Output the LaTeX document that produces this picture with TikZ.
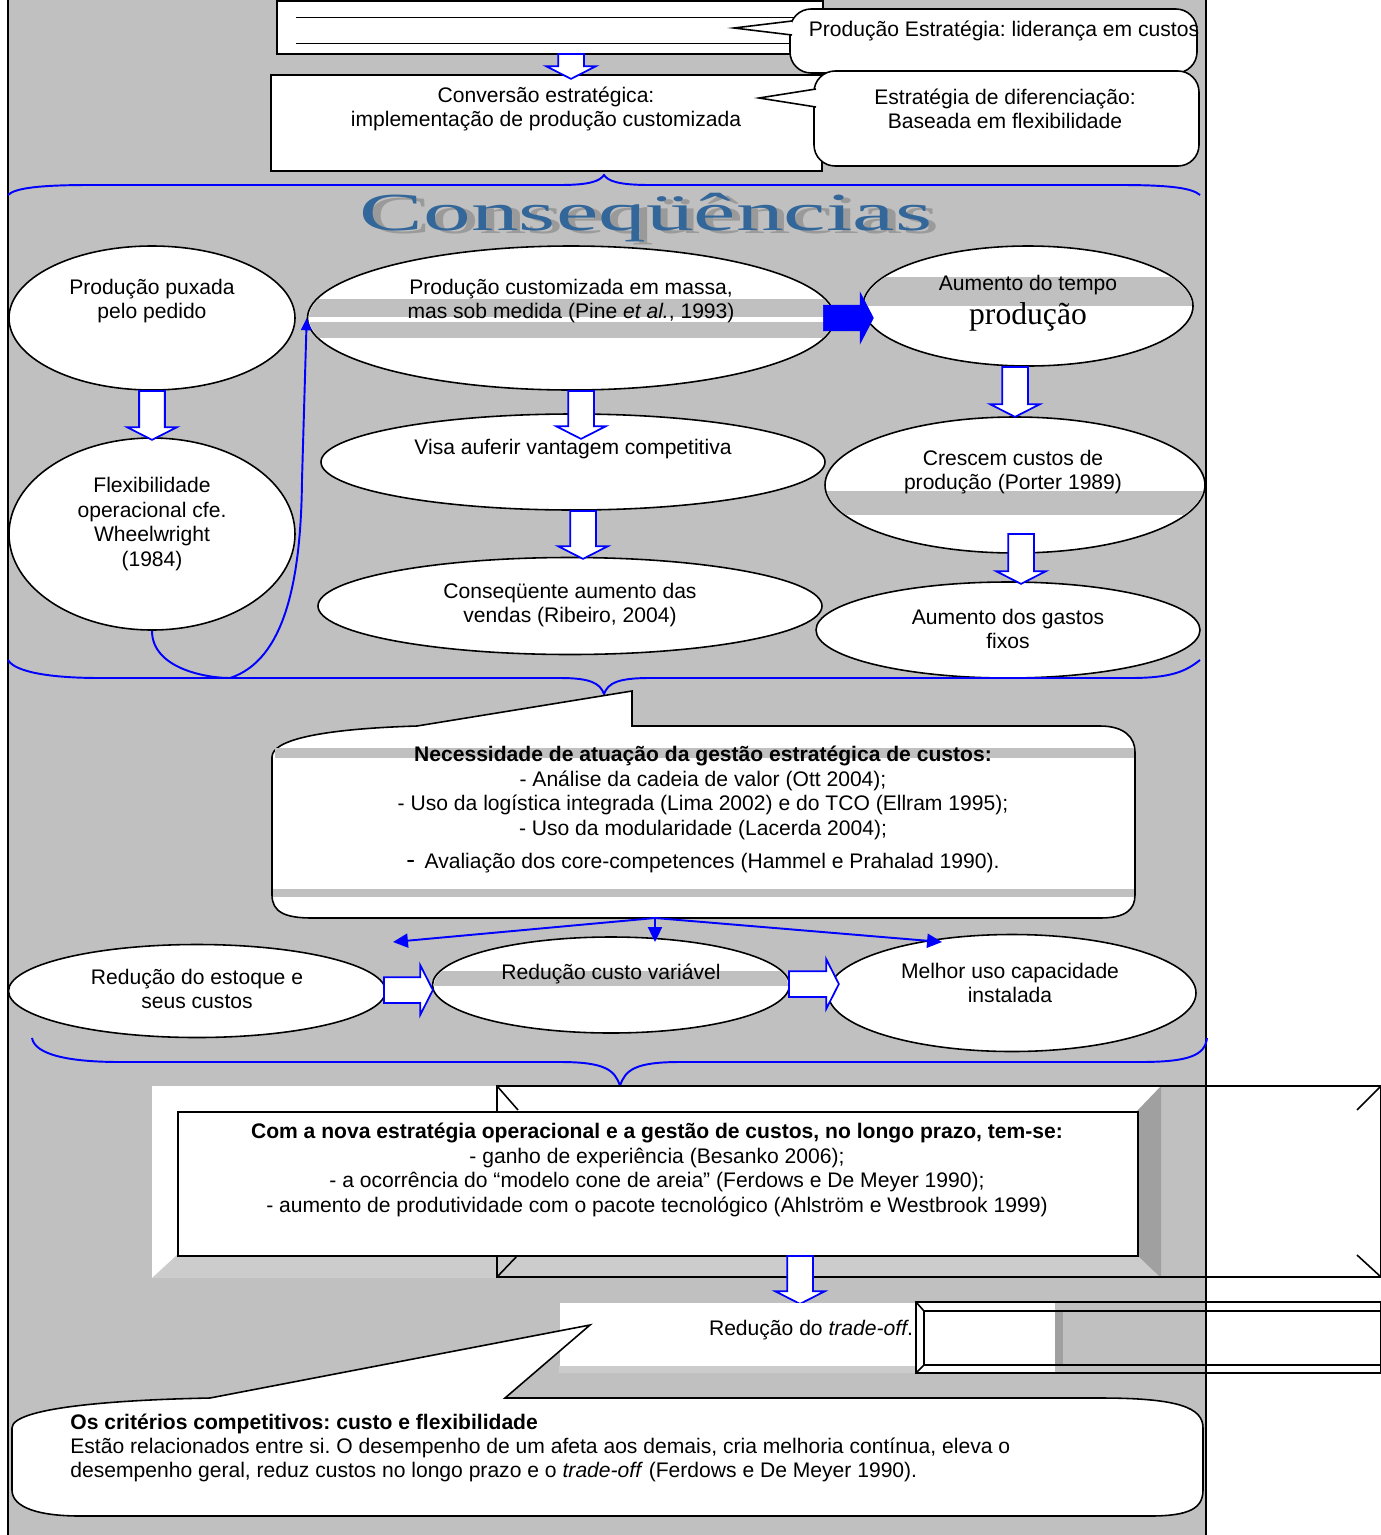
\documentclass[tikz,border=0pt]{standalone}
\usepackage{fontspec}
\setmainfont{Liberation Sans}
\newfontfamily\serifa{Liberation Serif}
\usetikzlibrary{shapes.geometric}
\usetikzlibrary{shapes.arrows}
\usetikzlibrary{arrows.meta}
\usepackage{xcolor}
\definecolor{fundo}{HTML}{C0C0C0}
\definecolor{bisel}{HTML}{CCCCCC}
\definecolor{biselesc}{HTML}{A0A0A0}
\definecolor{tituloazul}{HTML}{336699}
\definecolor{sombra}{HTML}{9A9A9A}
\frenchspacing

\begin{document}
\begin{tikzpicture}[x=0.02cm, y=-0.02cm]
        % ================= estilos =================
        \tikzset{
            % elipse branca com borda preta (largura, altura em px)
            elipse/.style 2 args={ellipse, draw=black, line width=0.9pt, fill=white, inner sep=0pt, minimum width=#1*0.02cm, minimum height=#2*0.02cm},
            % texto Arial 12pt
            txt/.style={font=\fontsize{12}{13.9}\selectfont, align=center, inner sep=0pt},
            % seta oca azul (comprimento em px)
            setaoca/.style={single arrow, draw=blue, line width=1pt, fill=white, inner xsep=0pt, inner ysep=0.24cm, single arrow head extend=0.24cm, single arrow tip angle=126, minimum height=#1*0.02cm},
            % seta cheia azul
            setacheia/.style={single arrow, draw=blue, fill=blue, inner xsep=0pt, inner ysep=0.25cm, single arrow head extend=0.25cm, single arrow tip angle=125, minimum height=1cm},
            % chaves e ligacoes azuis
            chave/.style={draw=blue, line width=1.1pt},
            ligacao/.style={draw=blue, line width=1.1pt, -{Triangle[length=8.5pt, width=8pt]}},
            % baloes de fala
            balao/.style={draw=black, line width=0.9pt, fill=white},
            faixa/.style={fill=fundo},
            caixa/.style={draw=black, line width=0.9pt, fill=white, inner sep=0pt, anchor=north west}
        }
        \useasboundingbox (0,0) rectangle (1381,1535);

        % ================= fundo =================
        \fill[fundo] (8,0) rectangle (1206,1535);
        \draw[line width=0.9pt] (8,0) -- (8,1535) (1206,0) -- (1206,1535);

        % ================= topo: estrategia =================
        \node[caixa, minimum width=546*0.02cm, minimum height=53*0.02cm] (topo) at (276,0) {};
        \draw (296,17) -- (800,17);
        \draw (296,43) -- (800,43);
        \node[caixa, minimum width=551*0.02cm, minimum height=96*0.02cm] (conv) at (270,74) {};
        \node[txt] (tconv) at (546,109) {Conversão estratégica:\\implementação de produção customizada};
        \node[setaoca=25, rotate=-90, anchor=tail] (a0) at (571,53) {};

        % baloes da direita
        \draw[balao, rounded corners=12pt] (790,9) rectangle (1197,73);
        \filldraw[balao] (792,21) -- (734,28) -- (792,35);
        \node[txt] (tb1) at (1004,31) {Produção Estratégia: liderança em custos};
        \draw[balao, rounded corners=12pt] (814,71) rectangle (1199,166);
        \filldraw[balao] (816,89) -- (759,98) -- (816,107);
        \node[txt] (tb2) at (1005,109) {Estratégia de diferenciação:\\Baseada em flexibilidade};

        % ================= Consequencias =================
        \draw[chave] (8,195) .. controls (15,188) and (40,185) .. (90,185) -- (560,185) .. controls (590,185) and (600,181) .. (604,175) .. controls (608,181) and (618,185) .. (650,185) -- (1120,185) .. controls (1170,185) and (1192,188) .. (1200,195);
        % titulo com sombra cinzenta
        \node[font=\serifa\fontsize{30.5}{30.5}\selectfont, text=tituloazul, inner sep=0pt] (tit) at (646,219)
            {\scalebox{1.78}[1]{\makebox[0pt][l]{\hspace{2.5pt}\raisebox{-2pt}{\color{sombra}Conseqüências}}Conseqüências}};

        \node[elipse={286}{144}] (e1) at (152,318) {};
        \node[elipse={527}{144}] (e2) at (571,318) {};
        \node[elipse={330}{120}] (e3) at (1028,306) {};
        \node[elipse={286}{192}] (e4) at (152,534) {};
        \node[elipse={504}{96}] (e5) at (573,462) {};
        \node[elipse={504}{97}] (e6) at (570,606) {};
        \node[elipse={380}{136}] (e7) at (1015,485) {};
        \node[elipse={384}{96}] (e8) at (1008,630) {};

        % faixas cinzentas dentro das elipses
        \begin{scope}
            \clip (e2.center) ellipse [x radius=262, y radius=71];
            \fill[faixa] (300,299) rectangle (840,317);
            \fill[faixa] (300,322) rectangle (840,338);
        \end{scope}
        \begin{scope}
            \clip (e3.center) ellipse [x radius=164, y radius=59];
            \fill[faixa] (860,277) rectangle (1200,306);
        \end{scope}
        \begin{scope}
            \clip (e7.center) ellipse [x radius=189, y radius=67];
            \fill[faixa] (820,491) rectangle (1210,515);
        \end{scope}

        \node[txt] (te1) at (152,301) {Produção puxada\\pelo pedido};
        \node[txt] (te2) at (571,301) {Produção customizada em massa,\\mas sob medida (Pine \textit{et al.}, 1993)};
        \node[txt] (te3) at (1028,285) {Aumento do tempo};
        \node[font=\serifa\fontsize{18}{18}\selectfont, inner sep=0pt] (te3b) at (1028,317) {produção};
        \node[txt] (te4) at (152,524) {Flexibilidade\\operacional cfe.\\Wheelwright\\(1984)};
        \node[txt] (te5) at (573,449) {Visa auferir vantagem competitiva};
        \node[txt] (te6) at (570,605) {Conseqüente aumento das\\vendas (Ribeiro, 2004)};
        \node[txt] (te7) at (1013,472) {Crescem custos de\\produção (Porter 1989)};
        \node[txt] (te8) at (1008,629) {Aumento dos gastos\\fixos};

        % ligacoes
        \draw[chave, -{Triangle[length=7pt, width=6pt]}] (e4.south) .. controls (152,668) and (205,678) .. (230,678) .. controls (285,660) and (301,580) .. (302,480) -- (e2.west);
        \node[setacheia, anchor=tail] (a23) at (823,318) {};
        \foreach \n/\x/\y/\l in {a14/152/390/49, a25/581/390/48, a56/583/510/48, a37/1015/366/50, a78/1021/533/50}
            \node[setaoca=\l, rotate=-90, anchor=tail] (\n) at (\x,\y) {};

        \draw[chave] (8,660) .. controls (15,672) and (50,678) .. (100,678) -- (560,678) .. controls (590,678) and (600,683) .. (604,694) .. controls (608,683) and (618,678) .. (650,678) -- (1130,678) .. controls (1170,678) and (1185,672) .. (1200,660);

        % ================= gestao estrategica de custos =================
        \draw[balao] (417,726) .. controls (320,729) and (272,740) .. (272,757) -- (272,895) .. controls (272,912) and (285,918) .. (312,918) -- (1100,918) .. controls (1125,918) and (1135,910) .. (1135,895) -- (1135,752) .. controls (1135,738) and (1125,726) .. (1100,726) -- (632,726) -- (632,691) -- cycle;
        \fill[faixa] (275,748) rectangle (1134,758);
        \fill[faixa] (273,889) rectangle (1134,897);
        \node[txt] (tnec) at (703,793) {\textbf{Necessidade de atuação da gestão estratégica de custos:}\\- Análise da cadeia de valor (Ott 2004);\\- Uso da logística integrada (Lima 2002) e do TCO (Ellram 1995);\\- Uso da modularidade (Lacerda 2004);};
        \node[txt] (tnec2) at (703,863) {{\fontsize{15}{15}\selectfont -}\, Avaliação dos core-competences (Hammel e Prahalad 1990).};

        \coordinate (nec) at (655,918);
        \coordinate (s9) at (393,942);
        \coordinate (s10) at (655,942);
        \coordinate (s11) at (942,942);

        \node[elipse={377}{93}] (e9) at (197,991) {};
        \node[elipse={357}{96}] (e10) at (611,985) {};
        \node[elipse={368}{117}] (e11) at (1012,993) {};
        \begin{scope}
            \clip (e10.center) ellipse [x radius=177, y radius=47];
            \fill[faixa] (420,971) rectangle (800,986);
        \end{scope}
        \node[txt] (te9) at (197,989) {Redução do estoque e\\seus custos};
        \node[txt] (te10) at (611,974) {Redução custo variável};
        \node[txt] (te11) at (1010,983) {Melhor uso capacidade\\instalada};

        \foreach \s in {s9, s10, s11}
            \draw[ligacao] (nec) -- (\s);
        \node[setaoca=49, anchor=tail] (a910) at (383,990) {};
        \node[setaoca=50, anchor=tail] (a1011) at (788,984) {};

        \draw[chave] (32,1038) .. controls (35,1055) and (70,1062) .. (120,1062) -- (560,1062) .. controls (605,1062) and (615,1070) .. (620,1086) .. controls (625,1070) and (635,1062) .. (680,1062) -- (1140,1062) .. controls (1190,1062) and (1205,1055) .. (1207,1038);

        % ================= longo prazo =================
        \fill[white] (152,1086) rectangle (1161,1278);
        \fill[bisel] (152,1278) -- (177,1255) -- (1137,1255) -- (1161,1278) -- cycle;
        \fill[biselesc] (1161,1086) -- (1137,1111) -- (1137,1255) -- (1161,1278) -- cycle;
        \draw[line width=0.9pt] (497,1086) rectangle (1381,1277);
        \draw[line width=0.9pt] (497,1086) -- (518,1110) (497,1277) -- (518,1255) (1381,1086) -- (1357,1110) (1381,1277) -- (1357,1255);
        \node[caixa, line width=1.3pt, minimum width=960*0.02cm, minimum height=144*0.02cm] (nova) at (177,1111) {};
        \node[txt] (tnova) at (657,1170) {\textbf{Com a nova estratégia operacional e a gestão de custos, no longo prazo, tem-se:}\\- ganho de experiência (Besanko 2006);\\- a ocorrência do “modelo cone de areia” (Ferdows e De Meyer 1990);\\- aumento de produtividade com o pacote tecnológico (Ahlström e Westbrook 1999)};
        \node[setaoca=48, rotate=-90, anchor=tail] (a12) at (800,1255) {};

        % reducao do trade-off
        \fill[bisel] (559,1365) rectangle (916,1373);
        \node[caixa, draw=none, minimum width=357*0.02cm, minimum height=63*0.02cm] (reduc) at (559,1302) {};
        \node[txt] (treduc) at (811,1330) {Redução do \textit{trade-off}.};
        \fill[white] (916,1302) rectangle (1055,1373);
        \fill[biselesc] (1055,1311) rectangle (1063,1365);
        \draw[line width=0.9pt] (916,1302) rectangle (1381,1373);
        \draw[line width=0.9pt] (924,1311) rectangle (1381,1365);
        \draw[line width=0.9pt] (916,1302) -- (924,1311) (916,1373) -- (924,1365);

        % ================= criterios competitivos =================
        \draw[balao] (210,1398) .. controls (110,1400) and (12,1408) .. (12,1428) -- (12,1490) .. controls (12,1508) and (40,1516) .. (80,1516) -- (1150,1516) .. controls (1190,1516) and (1203,1508) .. (1203,1490) -- (1203,1428) .. controls (1203,1408) and (1180,1398) .. (1100,1398) -- (505,1398) -- (590,1325) -- cycle;
        \node[txt, align=left, anchor=west] (tcrit) at (70,1448) {\textbf{Os critérios competitivos: custo e flexibilidade}\\Estão relacionados entre si. O desempenho de um afeta aos demais, cria melhoria contínua, eleva o\\desempenho geral, reduz custos no longo prazo e o \textit{trade-off} (Ferdows e De Meyer 1990).};

    \end{tikzpicture}
\end{document}
